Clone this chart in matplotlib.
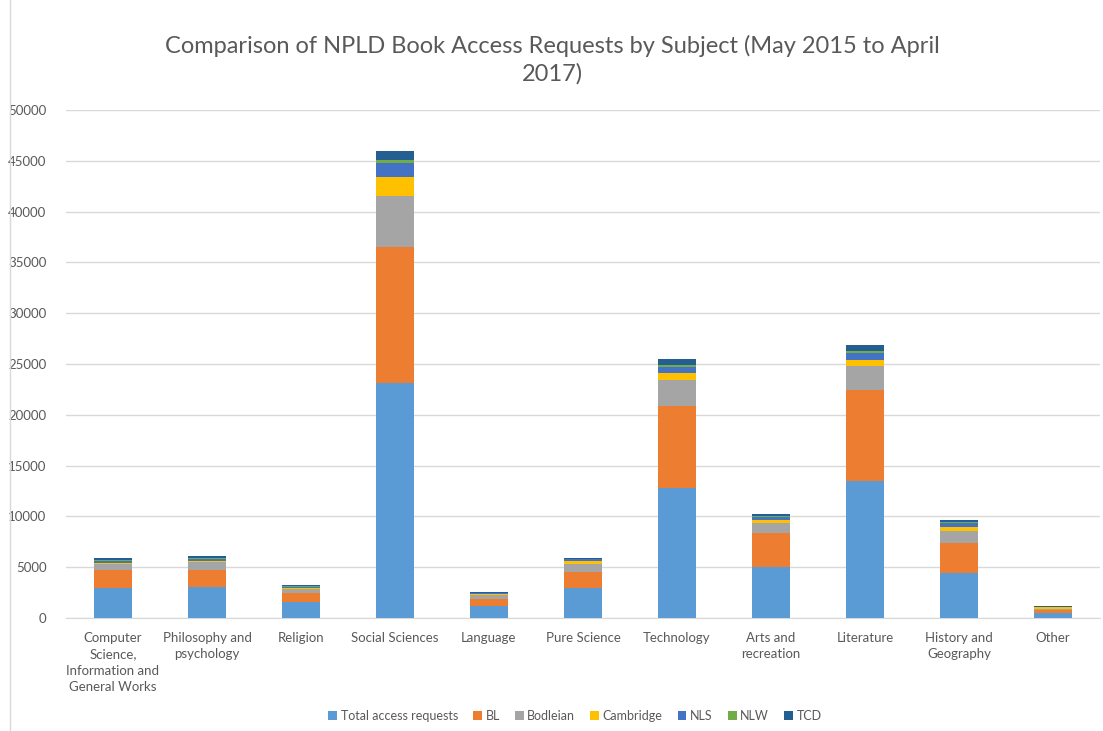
import numpy as np
import matplotlib.pyplot as plt
from matplotlib.patches import Rectangle

plt.rcParams['font.family'] = ['Lato', 'DejaVu Sans']

categories = ["Computer\nScience,\nInformation and\nGeneral Works", "Philosophy and\npsychology",
              "Religion", "Social Sciences", "Language", "Pure Science", "Technology",
              "Arts and\nrecreation", "Literature", "History and\nGeography", "Other"]

total_requests = [2920, 3020, 1600, 23100, 1210, 2980, 12800, 5050, 13450, 4460, 460]
bl = [1830, 1680, 860, 13400, 630, 1580, 8100, 3300, 9000, 2920, 330]
bodleian = [530, 800, 390, 5000, 390, 740, 2500, 1000, 2350, 1220, 100]
cambridge = [120, 150, 150, 1900, 130, 340, 700, 300, 600, 390, 160]
nls = [180, 200, 100, 1400, 60, 130, 600, 250, 700, 390, 30]
nlw = [120, 50, 50, 300, 30, 60, 250, 150, 200, 100, 20]
tcd = [200, 170, 100, 900, 60, 70, 500, 150, 600, 170, 50]

series = [("Total access requests", total_requests, "#5b9bd5"),
          ("BL", bl, "#ed7d31"),
          ("Bodleian", bodleian, "#a5a5a5"),
          ("Cambridge", cambridge, "#ffc000"),
          ("NLS", nls, "#4472c4"),
          ("NLW", nlw, "#70ad47"),
          ("TCD", tcd, "#255e91")]

fig = plt.figure(figsize=(11.03, 7.31), dpi=100)
# chart border
fig.patches.append(Rectangle((10 / 1103, -0.01), 1.0, 1.02, transform=fig.transFigure,
                             fill=False, edgecolor="#d9d9d9", linewidth=1))

ax = fig.add_axes([66 / 1103, 1 - 618 / 731, 1034 / 1103, 508 / 731])

x = np.arange(len(categories))
bottom = np.zeros(len(categories))
for name, vals, color in series:
    ax.bar(x, vals, width=0.4, bottom=bottom, color=color, label=name, zorder=3)
    bottom += np.array(vals)

ax.set_xlim(-0.5, len(categories) - 0.5)
ax.set_ylim(0, 50000)
ax.set_yticks(np.arange(0, 50001, 5000))
ax.grid(axis="y", color="#d9d9d9", linewidth=1, zorder=0)
ax.set_xticks(x)
ax.set_xticklabels(categories, fontsize=9.5, color="#595959", linespacing=1.45)
ax.tick_params(axis="y", labelsize=9.5, labelcolor="#595959", length=0, pad=14)
ax.tick_params(axis="x", length=0, pad=10)
for s in ["top", "right", "left"]:
    ax.spines[s].set_visible(False)
ax.spines["bottom"].set_color("#d9d9d9")

fig.text(0.5 + 1 / 1103, 1 - 60 / 731, "Comparison of NPLD Book Access Requests by Subject (May 2015 to April\n2017)",
         ha="center", va="center", fontsize=17, color="#595959", linespacing=1.35)

ax.legend(loc="center", bbox_to_anchor=(0.5 - 8 / 1034, (618 - 716) / 508), ncol=7, frameon=False,
          fontsize=9, handlelength=0.7, handleheight=0.7, handletextpad=0.3, columnspacing=1.2,
          labelcolor="#595959")

fig.savefig("out.png", dpi=100)
